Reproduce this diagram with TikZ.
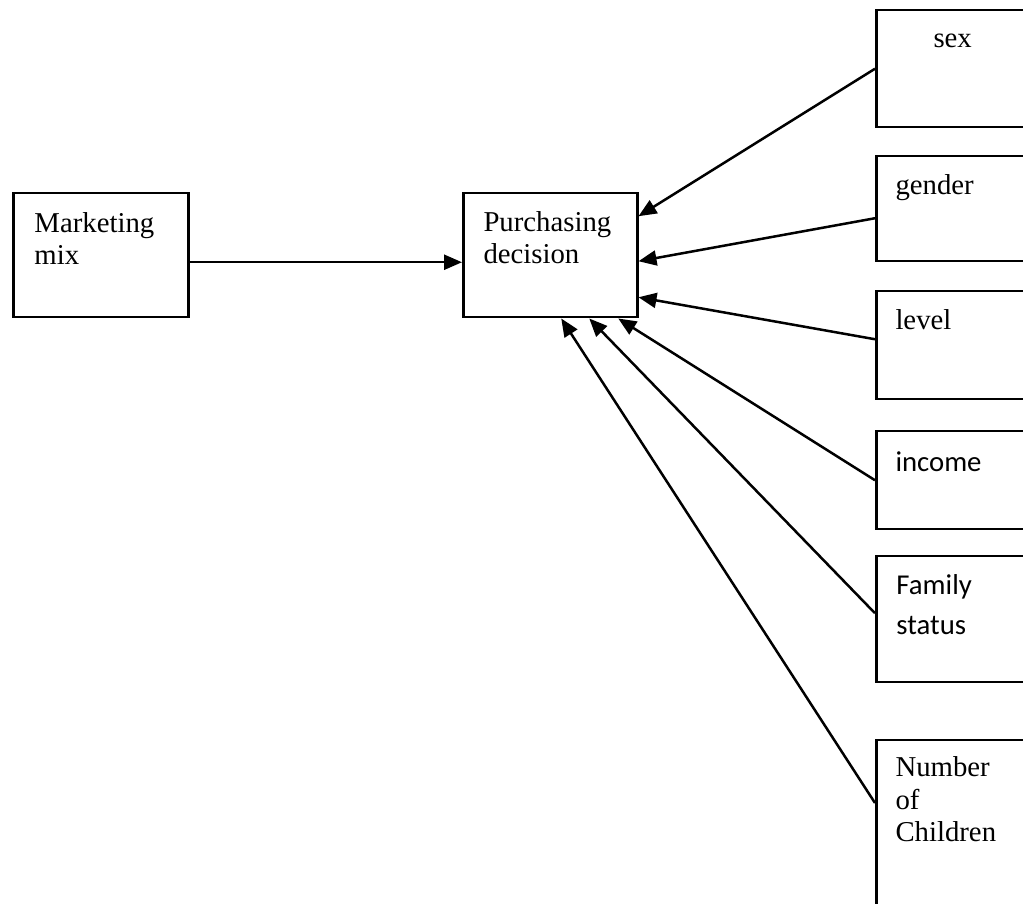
\documentclass[tikz,border=0pt]{standalone}
\usepackage{fontspec}
\setmainfont{Liberation Serif}
\newfontfamily\calibri{Carlito}
\usetikzlibrary{arrows.meta,calc}

\tikzset{
  box/.style={draw, line width=1pt, anchor=north west, inner sep=0pt},
  txt/.style={anchor=base west, inner sep=0pt, align=left, font=\fontsize{11.5}{13}\selectfont},
  ctxt/.style={anchor=base west, inner sep=0pt, align=left, font=\calibri\fontsize{11.5}{16}\selectfont},
  arr/.style={-{Triangle[length=7.2pt,width=6pt]}, line width=1pt}
}

\begin{document}
\begin{tikzpicture}[x=0.4pt,y=-0.4pt]
  \clip (0,0) rectangle (1023,904);
  % left boxes
  \node[box, minimum width=70pt, minimum height=49.6pt] (mm) at (12,192) {};
  \node[box, minimum width=69.6pt, minimum height=49.6pt] (pd) at (462,192) {};
  % base of a node with several lines = base of its last line
  \node[txt] (mmtxt) at ($(mm.north west)+(22,73)$) {Marketing\\mix};
  \node[txt] (pdtxt) at ($(pd.north west)+(21,72)$) {Purchasing\\decision};
  % right boxes, cut at the page edge
  \node[box, minimum width=80pt, minimum height=46.8pt] (sex) at (875,9) {};
  \node[box, minimum width=80pt, minimum height=42pt] (gender) at (875,155) {};
  \node[box, minimum width=80pt, minimum height=43.2pt] (level) at (875,290) {};
  \node[box, minimum width=80pt, minimum height=39.2pt] (income) at (875,430) {};
  \node[box, minimum width=80pt, minimum height=50.4pt] (family) at (875,555) {};
  \node[box, minimum width=80pt, minimum height=80pt] (children) at (875,739) {};
  \node[txt] (sextxt) at ($(sex.north west)+(58,39)$) {sex};
  \node[txt] (gendertxt) at ($(gender.north west)+(20,40)$) {gender};
  \node[txt] (leveltxt) at ($(level.north west)+(20,40)$) {level};
  \node[ctxt] (incometxt) at ($(income.north west)+(20,42)$) {income};
  \node[ctxt] (familytxt) at ($(family.north west)+(21,80)$) {Family\\status};
  \node[txt] (childrentxt) at ($(children.north west)+(20,103)$) {Number\\of\\Children};
  % arrows
  \draw[arr] ([yshift=-2.8pt]mm.east) -- ([yshift=-2.8pt]pd.west);
  \draw[arr] (sex.west) -- ([yshift=15.6pt]pd.east);
  \draw[arr] ([yshift=-3.8pt]gender.west) -- ([yshift=-2.4pt]pd.east);
  \draw[arr] ([yshift=2.4pt]level.west) -- ([yshift=-16.8pt]pd.east);
  \draw[arr] (income.west) -- ([xshift=27.2pt]pd.south);
  \draw[arr] ([yshift=2.4pt]family.west) -- ([xshift=15.6pt]pd.south);
  \draw[arr] ([yshift=-25.6pt]children.north west) -- ([xshift=4.4pt]pd.south);
\end{tikzpicture}
\end{document}
